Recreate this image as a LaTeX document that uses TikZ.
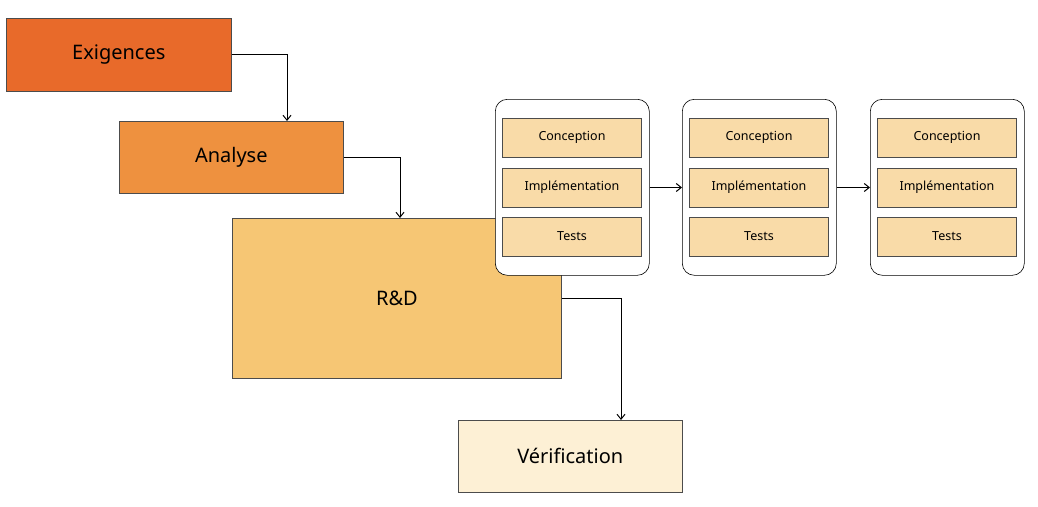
\documentclass[tikz,border=0pt]{standalone}
\usepackage{fontspec}
\setmainfont{Noto Sans}
\usetikzlibrary{arrows.meta}
\definecolor{c1}{HTML}{E86A2A}
\definecolor{c2}{HTML}{EE913F}
\definecolor{c3}{HTML}{F6C674}
\definecolor{c4}{HTML}{FDF0D5}
\definecolor{c5}{HTML}{F9DBA8}
\begin{document}
\begin{tikzpicture}[x=1pt,y=-1pt,
 big/.style={draw=black!70,line width=0.6pt,anchor=north west,inner sep=0pt,font=\fontsize{20}{24}\selectfont},
 panel/.style={draw=black,line width=0.6pt,rounded corners=12pt,anchor=north west,minimum width=154pt,minimum height=176pt,inner sep=0pt},
 stp/.style={draw=black!70,line width=0.6pt,fill=c5,minimum width=139pt,minimum height=39pt,inner sep=0pt,font=\fontsize{12.5}{15}\selectfont},
 arr/.style={-{Straight Barb[length=5pt,width=8pt]},line width=1pt}]
\useasboundingbox (0,0) rectangle (1038,506);
\node[big,fill=c1,minimum width=225pt,minimum height=73pt] (ex) at (6,18) {};
\node at (ex.center) {\fontsize{20}{24}\selectfont Exigences};
\node[big,fill=c2,minimum width=224pt,minimum height=72pt] (an) at (119,121) {};
\node at (an.center) {\fontsize{20}{24}\selectfont Analyse};
\node[big,fill=c3,minimum width=329pt,minimum height=160pt] (rd) at (232,218) {};
\node at (397,298) {\fontsize{20}{24}\selectfont R\&D};
\node[big,fill=c4,minimum width=224pt,minimum height=72pt] (ve) at (458,420) {};
\node at (ve.center) {\fontsize{20}{24}\selectfont Vérification};
\foreach \i/\x in {1/495,2/682,3/870}{
 \node[panel,fill=white] (p\i) at (\x,99) {};
 \node[stp] (c\i) at (\x+77,137.5) {Conception};
 \node[stp] (m\i) at (\x+77,187.5) {Implémentation};
 \node[stp] (t\i) at (\x+77,236.5) {Tests};
}
\draw[arr] (ex.east) -| (an.north -| 287,0);
\draw[arr] (an.east) -| (rd.north -| 400,0);
\draw[arr] (rd.east) -| (ve.north -| 621,0);
\draw[arr] (p1.east |- m1) -- (p2.west |- m2);
\draw[arr] (p2.east |- m2) -- (p3.west |- m3);
\end{tikzpicture}
\end{document}
